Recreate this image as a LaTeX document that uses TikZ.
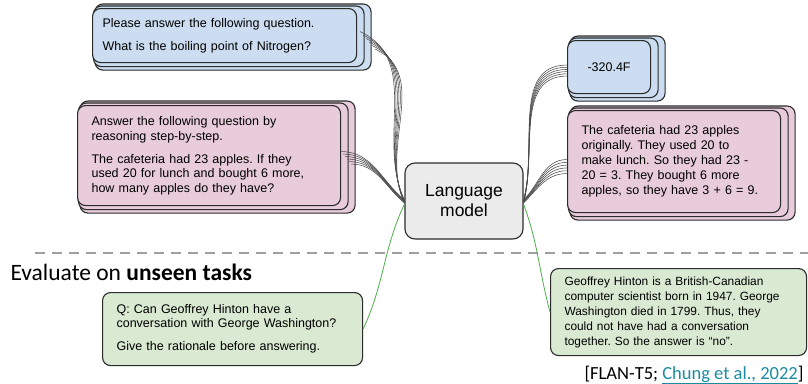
\documentclass[tikz,border=0pt]{standalone}
\usepackage{fontspec}
\setmainfont{Liberation Sans}
\newfontfamily\calibrifont{Carlito}
\usepackage{tikz}
\usetikzlibrary{positioning,calc,backgrounds}
\frenchspacing

\definecolor{qblue}{HTML}{CCDDF1}
\definecolor{qpink}{HTML}{E8CCDB}
\definecolor{qgreen}{HTML}{D9E9D2}
\definecolor{lmgray}{HTML}{EBEBEB}
\definecolor{edgegray}{HTML}{2B2B2B}
\definecolor{linkteal}{HTML}{1A8BA0}

\begin{document}
\begin{tikzpicture}[
    x=1pt, y=1pt,
    font=\fontsize{12.5}{14.5}\selectfont,
    card/.style={draw=edgegray, line width=1.1pt, rounded corners=8pt, anchor=north west,
        align=left, inner xsep=14pt, inner ysep=0pt},
    backcard/.style={draw=edgegray, line width=1.1pt, rounded corners=8pt},
    lmbox/.style={draw=edgegray, line width=1.1pt, rounded corners=10pt, fill=lmgray,
        minimum width=118pt, minimum height=76pt, align=center,
        font=\fontsize{17.5}{20}\selectfont},
    strand/.style={draw=edgegray!85, line width=0.55pt},
    gline/.style={draw=green!55!black!70, line width=0.8pt},
    divider/.style={draw=gray!75, line width=2.6pt, dash pattern=on 10pt off 7pt}
]
\useasboundingbox (0,0) rectangle (808,-383);

% training prompts (left) and targets (right)
\node[card, fill=qblue, text width=244pt, minimum height=54pt, inner xsep=10pt] (qa) at (92,-8)
    {Please answer the following question.\\[8.5pt]What is the boiling point of Nitrogen?};
\node[card, fill=qpink, text width=235pt, minimum height=100pt] (qb) at (77,-105)
    {Answer the following question by\\reasoning step-by-step.\\[8.5pt]The cafeteria had 23 apples. If they\\used 20 for lunch and bought 6 more,\\how many apples do they have?};
\node[lmbox] (lm) at (464,-201) {Language\\model};
\node[card, fill=qblue, align=center, text width=55pt, minimum height=53pt] (ra) at (567,-40) {-320.4F};
\node[card, fill=qpink, text width=185pt, minimum height=102pt, font=\fontsize{12.5}{15}\selectfont] (rb) at (567,-110)
    {The cafeteria had 23 apples\\originally. They used 20 to\\make lunch. So they had 23 -\\20 = 3. They bought 6 more\\apples, so they have 3 + 6 = 9.};

% stacked copies behind the cards
\begin{pgfonlayer}{background}
\foreach \n/\c in {qa/qblue, qb/qpink, ra/qblue, rb/qpink}
  \foreach \k in {2,1}
    \draw[backcard, fill=\c] ($(\n.north west)+(1.5*\k,2*\k)$) rectangle ($(\n.south east)+(7*\k,-3.5*\k)$);
\end{pgfonlayer}

% unseen tasks
\draw[divider] (35,-253) coordinate (dl) -- (808,-253) coordinate (dr);
\node[anchor=base west, font=\calibrifont\fontsize{23.5}{26}\selectfont] (evaltitle) at (7,-280)
    {Evaluate on \textbf{unseen tasks}};
\node[card, fill=qgreen, text width=232pt, minimum height=73pt, font=\fontsize{12.5}{14}\selectfont] (ga) at (102,-292)
    {Q: Can Geoffrey Hinton have a\\conversation with George Washington?\\[9pt]Give the rationale before answering.};
\node[card, fill=qgreen, text width=228pt, minimum height=87pt, font=\fontsize{11.9}{15}\selectfont] (gb) at (550,-268)
    {Geoffrey Hinton is a British-Canadian\\computer scientist born in 1947. George\\Washington died in 1799. Thus, they\\could not have had a conversation\\together. So the answer is ``no''.};
\node[anchor=east, font=\calibrifont\fontsize{18.5}{21}\selectfont] (cite) at (807,-375)
    {[FLAN-T5; \textcolor{linkteal}{\underline{Chung et al., 2022}}]};

% strands into and out of the model
\foreach \i in {0,...,5} {
  \draw[strand] ($(qa.east)+(3+3*\i,4-3.5*\i)$) to[out=-25,in=115] ($(lm.west)+(0,1-0.6*\i)$);
  \draw[strand] ($(qb.east)+(2*\i,4-2.5*\i)$) to[out=0,in=140] ($(lm.west)+(0,1-0.6*\i)$);
  \draw[strand] ($(lm.east)+(0,1-0.6*\i)$) to[out=75,in=180] ($(ra.west)+(0,2-2.2*\i)$);
  \draw[strand] ($(lm.east)+(0,1-0.6*\i)$) to[out=45,in=180] ($(rb.west)+(0,2-2.8*\i)$);
}
\draw[gline] ($(lm.west)+(0,-3)$) to[out=-115,in=65] (ga.east);
\draw[gline] ($(lm.east)+(0,-3)$) to[out=-70,in=105] (gb.west);
\end{tikzpicture}
\end{document}
